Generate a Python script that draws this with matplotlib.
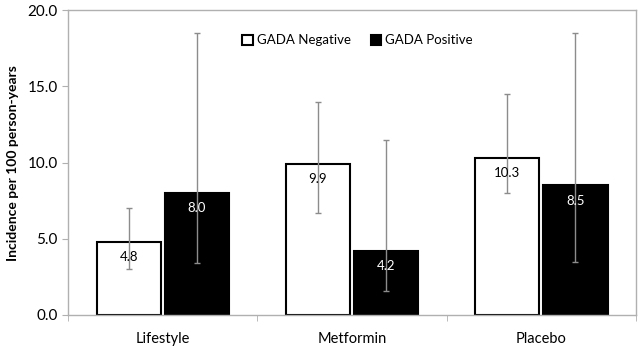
import numpy as np
import matplotlib.pyplot as plt

plt.rcParams['font.family'] = ['Lato', 'DejaVu Sans']

# data
groups = ['Lifestyle', 'Metformin', 'Placebo']
neg_vals = [4.8, 9.9, 10.3]
pos_vals = [8.0, 4.2, 8.5]
neg_lo = [3.0, 6.7, 8.0]
neg_hi = [7.0, 14.0, 14.5]
pos_lo = [3.4, 1.6, 3.5]
pos_hi = [18.5, 11.5, 18.5]
yticks = [0, 5, 10, 15, 20]

fig, ax = plt.subplots(figsize=(6.43, 3.5), dpi=100)
fig.subplots_adjust(left=0.106, right=0.989, top=0.971, bottom=0.1)

x = np.arange(len(groups))
w = 0.34
off = 0.18

neg_err = [np.array(neg_vals) - np.array(neg_lo), np.array(neg_hi) - np.array(neg_vals)]
pos_err = [np.array(pos_vals) - np.array(pos_lo), np.array(pos_hi) - np.array(pos_vals)]

ax.bar(x - off, neg_vals, w, color='white', edgecolor='black', linewidth=1.5,
       label='GADA Negative', zorder=2)
ax.bar(x + off, pos_vals, w, color='black', edgecolor='black', linewidth=1.5,
       label='GADA Positive', zorder=2)
ax.errorbar(x - off, neg_vals, yerr=neg_err, fmt='none', ecolor='#8c8c8c',
            elinewidth=1, capsize=2.5, capthick=1, zorder=3)
ax.errorbar(x + off, pos_vals, yerr=pos_err, fmt='none', ecolor='#8c8c8c',
            elinewidth=1, capsize=2.5, capthick=1, zorder=3)

for xi, v in zip(x - off, neg_vals):
    ax.text(xi, v - 1.0, f'{v:.1f}', ha='center', va='center', fontsize=9.5,
            color='black', zorder=4)
for xi, v in zip(x + off, pos_vals):
    ax.text(xi, v - 1.0, f'{v:.1f}', ha='center', va='center', fontsize=9.5,
            color='white', zorder=4)

ax.set_xlim(-0.5, 2.5)
ax.set_ylim(0, 20)
ax.set_yticks(yticks)
ax.set_yticklabels([f'{t:.1f}' for t in yticks], fontsize=11)
ax.set_ylabel('Incidence per 100 person-years', fontsize=10, fontweight='bold',
              labelpad=6)

ax.set_xticks(x)
ax.set_xticklabels(groups, fontsize=10.5)
ax.tick_params(axis='x', length=0, pad=12)
ax.set_xticks([-0.5, 0.5, 1.5, 2.5], minor=True)
ax.tick_params(axis='x', which='minor', length=4, color='#b0b0b0')
ax.tick_params(axis='y', length=4, color='#b0b0b0')

for s in ax.spines.values():
    s.set_color('#b0b0b0')
    s.set_linewidth(1)

ax.legend(loc='upper center', bbox_to_anchor=(0.51, 0.96), ncol=2, frameon=False,
          fontsize=9.5, handlelength=0.8, handleheight=0.8, handletextpad=0.3,
          columnspacing=1.5)

fig.savefig('out.png', dpi=100)
